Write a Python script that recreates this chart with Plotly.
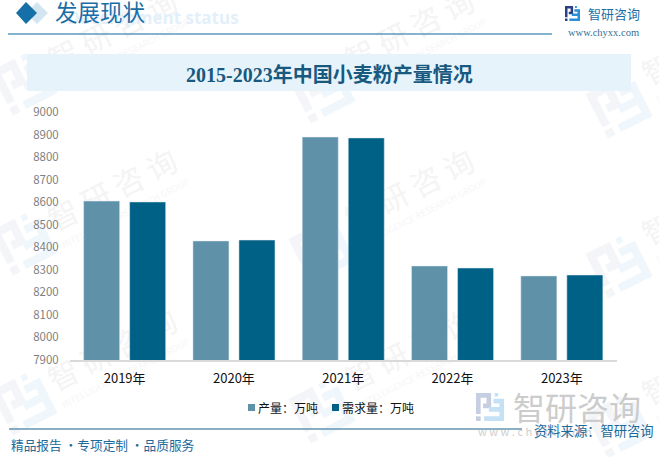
import math
import plotly.graph_objects as go

W, H = 659, 457

years = ["2019年", "2020年", "2021年", "2022年", "2023年"]
output_vals = [8605, 8428, 8889, 8317, 8273]
demand_vals = [8601, 8432, 8885, 8308, 8277]
name_output = "产量\uff1a万吨"
name_demand = "需求量\uff1a万吨"
y_ticks = list(range(7900, 9100, 100))

SANS = "Noto Sans CJK SC, Open Sans, sans-serif"
SERIF = "Liberation Serif, Noto Sans CJK SC, serif"

# logo pieces, local units 0-24
LOGO_DARK = [
    [(0, 0), (13, 0), (13, 13), (6, 13), (6, 9), (9, 9), (9, 4), (4, 4), (4, 18), (0, 18)],
    [(0, 20), (4, 20), (4, 24), (0, 24)],
]
LOGO_LIGHT = [
    [(16, 0), (19, 0), (19, 3), (16, 3)],
    [(15, 5), (24, 5), (24, 24), (7, 24), (7, 20), (20, 20), (20, 16), (11, 16), (11, 12), (20, 12), (20, 9), (15, 9)],
]


def fx(x):
    return x / W


def fy(y):
    return 1 - y / H


def rect(x0, y0, x1, y1, color, layer="below"):
    return dict(type="rect", xref="paper", yref="paper", x0=fx(x0), x1=fx(x1), y0=fy(y0), y1=fy(y1),
                fillcolor=color, line_width=0, layer=layer)


def hline(x0, x1, y, color):
    return dict(type="line", xref="paper", yref="paper", x0=fx(x0), x1=fx(x1), y0=fy(y), y1=fy(y),
                line=dict(color=color, width=1.2), layer="above")


def logo(cx, cy, size, angle, dark, light):
    out = []
    a = math.radians(angle)
    for pieces, color in ((LOGO_DARK, dark), (LOGO_LIGHT, light)):
        for poly in pieces:
            pts = []
            for px, py in poly:
                dx = (px - 12) / 24 * size
                dy = (py - 12) / 24 * size
                pts.append((cx + dx * math.cos(a) - dy * math.sin(a), cy + dx * math.sin(a) + dy * math.cos(a)))
            path = "M" + "L".join(f"{fx(p[0]):.5f},{fy(p[1]):.5f}" for p in pts) + "Z"
            out.append(dict(type="path", xref="paper", yref="paper", path=path,
                            fillcolor=color, line_width=0, layer="below"))
    return out


def wm_text(cx, cy, text, size, color, font=SANS):
    # shape label keeps the watermark under the bars
    return dict(type="rect", xref="paper", yref="paper", x0=fx(cx - 2), x1=fx(cx + 2), y0=fy(cy + 2), y1=fy(cy - 2),
                fillcolor="rgba(0,0,0,0)", line_width=0, layer="below",
                label=dict(text=text, textangle=-27, textposition="middle center",
                           xanchor="center", yanchor="middle", font=dict(size=size, color=color, family=font)))


def ann(x, y, text, size, color, anchor="left", family=SANS):
    return dict(xref="paper", yref="paper", x=fx(x), y=fy(y), text=text, showarrow=False, xanchor=anchor,
                yanchor="middle", font=dict(size=size, color=color, family=family), borderpad=0, borderwidth=0)


fig = go.Figure()
fig.add_trace(go.Bar(x=years, y=output_vals, name=name_output, marker_color="#5f92a9", showlegend=False))
fig.add_trace(go.Bar(x=years, y=demand_vals, name=name_demand, marker_color="#006186", showlegend=False))

shapes = []

# watermarks
for cx, cy in [(114, 33), (114, 193), (114, 353), (411, 33), (411, 193), (411, 353), (708, 47), (708, 207), (708, 367)]:
    shapes.append(wm_text(cx, cy, "智 研 咨 询", 30, "#f4f4f4"))
    shapes.append(wm_text(cx + 12, cy + 21, "INTELLIGENCE RESEARCH GROUP", 9, "#f6f6f6"))
for cx, cy in [(24, 82), (24, 242), (24, 402), (322, 90), (322, 250), (322, 410), (619, 105), (619, 265), (619, 425)]:
    shapes += logo(cx, cy, 50, -27, "#f4f5f8", "#f0f7fc")

# header
shapes.append(rect(27, 54, 631, 91, "#e6f3fb"))
shapes.append(dict(type="path", xref="paper", yref="paper", layer="below", line_width=0, fillcolor="#d3e5f0",
                   path=f"M{fx(37)},{fy(2)}L{fx(48)},{fy(13)}L{fx(37)},{fy(24)}L{fx(26)},{fy(13)}Z"))
shapes.append(dict(type="path", xref="paper", yref="paper", layer="below", line_width=0, fillcolor="#1570a8",
                   path=f"M{fx(26)},{fy(2)}L{fx(37)},{fy(13)}L{fx(26)},{fy(24)}L{fx(16)},{fy(13)}Z"))
shapes.append(hline(8, 552, 34, "#0f6aa0"))
shapes += logo(572.5, 13.5, 15, 0, "#2b3f86", "#2a8fd4")

# big logo bottom right
shapes += logo(490, 407, 28, 0, "#c6cfe1", "#c5e1f5")

# footer line
shapes.append(hline(9, 522, 429, "#1a6288"))

# legend keys
shapes.append(rect(248, 404, 255, 411, "#5f92a9", layer="above"))
shapes.append(rect(332, 404, 339, 411, "#006186", layer="above"))

annotations = [
    ann(239, 18, "<b>Development status</b>", 17, "#e3f0fa", anchor="right", family="Open Sans, sans-serif"),
    ann(55, 14, "发展现状", 22.5, "#1a6ea8", family=SERIF),
    ann(329, 75, "<b>2015-2023年中国小麦粉产量情况</b>", 20, "#17597f", anchor="center", family=SERIF),
    ann(588, 13, "智研咨询", 13, "#1e6fa5"),
    ann(603, 32, "www.chyxx.com", 10.5, "#356f96", anchor="center", family=SERIF),
    ann(513, 406, "智研咨询", 32, "#cccccc"),
    ann(478, 431, "w w w . c h y x x . c o m", 11, "#cfcfcf"),
    ann(654, 430, "资料来源\uff1a智研咨询", 13.3, "#1c6a9a", anchor="right"),
    ann(11, 444, "精品报告 ·专项定制 ·品质服务", 12.7, "#1c6a9a"),
    ann(258, 407, name_output, 12, "#111111"),
    ann(342, 407, name_demand, 12, "#111111"),
]

fig.update_layout(
    width=W,
    height=H,
    autosize=False,
    barmode="group",
    bargap=0.158,
    bargroupgap=0.217,
    showlegend=False,
    paper_bgcolor="white",
    plot_bgcolor="rgba(0,0,0,0)",
    margin=dict(l=0, r=0, t=0, b=0),
    shapes=shapes,
    annotations=annotations,
    xaxis=dict(
        domain=[fx(70), fx(616.5)],
        automargin=False,
        showline=True,
        linecolor="#d9d9d9",
        linewidth=1.5,
        showgrid=False,
        ticks="outside",
        ticklen=6,
        tickcolor="rgba(0,0,0,0)",
        tickfont=dict(size=13, color="#111111", family=SANS),
        anchor="y",
    ),
    yaxis=dict(
        domain=[fy(360), fy(112)],
        automargin=False,
        range=[7900, 9000],
        tickvals=y_ticks,
        showgrid=False,
        zeroline=False,
        showline=False,
        ticks="outside",
        ticklen=8,
        tickcolor="rgba(0,0,0,0)",
        tickfont=dict(size=11.5, color="#7f7f7f", family=SANS),
        anchor="x",
    ),
)

# page margin would push the figure off the window
fig.write_html("out.html", config=dict(displayModeBar=False),
               post_script="document.body.style.margin='0';document.documentElement.style.overflow='hidden';")
